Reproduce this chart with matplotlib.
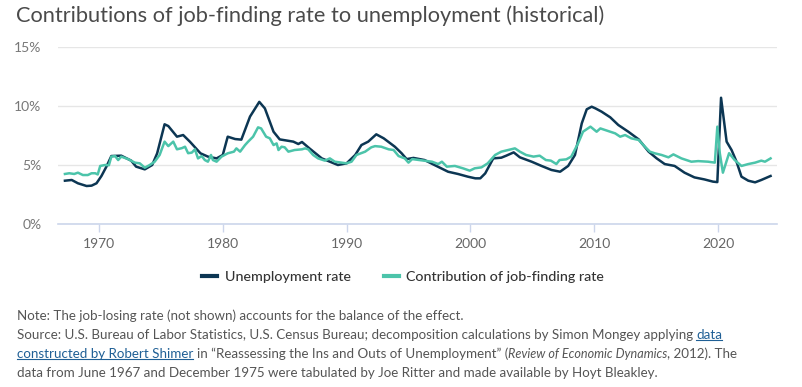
import matplotlib
matplotlib.use("Agg")
import matplotlib.pyplot as plt
from matplotlib.lines import Line2D
from matplotlib.transforms import IdentityTransform

# ---- data ----
unemp_years = [1967.25, 1967.8, 1968.3, 1969.0, 1969.4, 1969.8, 1970.2, 1970.6, 1971.0, 1971.8,
               1972.6, 1973.0, 1973.7, 1974.3, 1974.7, 1975.3, 1975.6, 1976.3, 1976.8, 1977.35,
               1978.2, 1978.8, 1979.5, 1980.0, 1980.4, 1981.0, 1981.5, 1982.2, 1982.95, 1983.4,
               1984.1, 1984.6, 1985.7, 1986.1, 1986.4, 1987.0, 1988.0, 1988.65, 1989.3, 1990.0,
               1990.7, 1991.2, 1991.75, 1992.4, 1993.0, 1993.9, 1994.45, 1994.85, 1995.4, 1996.3,
               1997.1, 1998.2, 1999.0, 1999.8, 2000.4, 2000.8, 2001.2, 2001.85, 2002.5, 2002.9,
               2003.5, 2004.0, 2004.95, 2005.75, 2006.55, 2007.25, 2007.9, 2008.45, 2009.0, 2009.4,
               2009.8, 2010.1, 2010.6, 2011.3, 2011.95, 2012.76, 2013.6, 2014.4, 2015.05, 2015.7,
               2016.5, 2017.3, 2018.1, 2018.9, 2019.6, 2019.95, 2020.25, 2020.7, 2021.1, 2021.5,
               2021.9, 2022.45, 2023.0, 2023.5, 2024.25]
unemp_rate = [3.67, 3.73, 3.45, 3.22, 3.25, 3.45, 4.07, 4.86, 5.76, 5.79,
              5.37, 4.86, 4.63, 5.0, 5.99, 8.45, 8.3, 7.4, 7.54, 6.97,
              5.99, 5.71, 5.56, 5.85, 7.4, 7.2, 7.15, 9.1, 10.35, 9.8,
              7.82, 7.17, 6.98, 6.78, 6.95, 6.41, 5.56, 5.28, 5.0, 5.14,
              5.85, 6.69, 6.98, 7.6, 7.26, 6.55, 5.99, 5.5, 5.6, 5.42,
              5.0, 4.43, 4.24, 4.01, 3.87, 3.87, 4.29, 5.56, 5.62, 5.79,
              6.07, 5.65, 5.28, 4.92, 4.58, 4.43, 4.92, 5.85, 8.53, 9.72,
              9.94, 9.8, 9.52, 9.04, 8.39, 7.82, 7.17, 6.13, 5.56, 5.08,
              4.92, 4.35, 3.95, 3.78, 3.59, 3.55, 10.7, 6.98, 6.27, 5.28,
              4.01, 3.67, 3.53, 3.73, 4.07]

jf_years = [1967.25, 1967.6, 1968.0, 1968.3, 1968.7, 1969.1, 1969.4, 1969.7, 1969.9, 1970.1,
            1970.5, 1970.8, 1971.0, 1971.3, 1971.55, 1971.8, 1972.35, 1972.9, 1973.3, 1973.7,
            1974.1, 1974.5, 1974.9, 1975.3, 1975.6, 1976.0, 1976.3, 1976.7, 1976.95, 1977.2,
            1977.5, 1977.75, 1978.0, 1978.3, 1978.55, 1978.8, 1979.05, 1979.2, 1979.5, 1979.9,
            1980.4, 1980.9, 1981.1, 1981.4, 1981.8, 1982.05, 1982.45, 1982.85, 1983.1, 1983.5,
            1983.8, 1984.1, 1984.35, 1984.5, 1984.75, 1985.0, 1985.3, 1985.8, 1986.4, 1986.65,
            1986.9, 1987.3, 1987.7, 1988.25, 1988.65, 1989.05, 1989.6, 1990.0, 1990.4, 1990.8,
            1991.5, 1992.0, 1992.3, 1992.8, 1993.4, 1993.8, 1994.2, 1994.7, 1995.0, 1995.3,
            1995.9, 1996.3, 1996.9, 1997.4, 1997.7, 1998.1, 1998.75, 1999.4, 1999.95, 2000.35,
            2000.9, 2001.4, 2002.0, 2002.5, 2003.05, 2003.6, 2004.0, 2004.5, 2005.1, 2005.6,
            2006.1, 2006.5, 2006.95, 2007.2, 2007.75, 2008.15, 2008.7, 2009.1, 2009.7, 2010.2,
            2010.5, 2010.9, 2011.7, 2012.1, 2012.5, 2013.0, 2013.6, 2014.1, 2014.5, 2014.9,
            2015.45, 2016.0, 2016.4, 2017.05, 2017.85, 2018.4, 2019.2, 2019.75, 2019.95, 2020.15,
            2020.4, 2020.9, 2021.35, 2021.9, 2022.45, 2023.0, 2023.5, 2023.8, 2024.25]
jf_contrib = [4.24, 4.3, 4.24, 4.35, 4.15, 4.15, 4.3, 4.3, 4.2, 4.92,
              5.0, 4.98, 5.71, 5.76, 5.42, 5.71, 5.5, 5.2, 5.14, 4.77,
              5.0, 5.28, 5.85, 6.98, 6.6, 6.98, 6.33, 6.43, 6.55, 6.0,
              6.05, 6.33, 5.56, 5.76, 5.42, 5.28, 5.85, 5.42, 5.28, 5.71,
              5.99, 6.13, 6.41, 6.13, 6.69, 6.98, 7.4, 8.19, 8.1, 7.4,
              7.26, 6.69, 6.83, 6.27, 6.55, 6.5, 6.13, 6.27, 6.33, 6.41,
              6.33, 5.85, 5.56, 5.37, 5.56, 5.28, 5.2, 5.14, 5.28, 5.85,
              6.13, 6.5, 6.6, 6.55, 6.33, 6.27, 5.76, 5.56, 5.2, 5.5,
              5.42, 5.37, 5.28, 5.08, 5.28, 4.86, 4.92, 4.72, 4.52, 4.72,
              4.8, 5.14, 5.85, 6.13, 6.27, 6.41, 6.13, 5.85, 5.71, 5.79,
              5.42, 5.37, 5.08, 5.42, 5.48, 5.71, 6.83, 7.82, 8.25, 7.82,
              8.1, 7.96, 7.68, 7.4, 7.54, 7.26, 7.12, 6.55, 6.13, 5.99,
              5.85, 5.65, 5.9, 5.56, 5.28, 5.33, 5.28, 5.2, 8.25, 6.0,
              4.35, 6.0, 5.42, 4.92, 5.08, 5.2, 5.37, 5.28, 5.56]

year_ticks = [1970, 1980, 1990, 2000, 2010, 2020]
pct_ticks = [0, 5, 10, 15]
series_labels = ["Unemployment rate", "Contribution of job-finding rate"]

DARK = "#0c3653"
TEAL = "#4cc4aa"
FONT = "Lato"

W, H = 802, 387
fig = plt.figure(figsize=(W / 100, H / 100), dpi=100)
ax = fig.add_axes([58 / W, 1 - 224 / H, (777 - 58) / W, (224 - 47) / H])

ax.plot(unemp_years, unemp_rate, color=DARK, lw=1.8, label=series_labels[0], solid_joinstyle="round")
ax.plot(jf_years, jf_contrib, color=TEAL, lw=1.8, label=series_labels[1], solid_joinstyle="round")

ax.set_xlim(1966.69, 2024.77)
ax.set_ylim(0, 15)
ax.set_yticks(pct_ticks)
ax.set_yticklabels([f"{v}%" for v in pct_ticks])
ax.set_xticks(year_ticks)
ax.grid(axis="y", color="#e6e6e6", lw=1)
ax.set_axisbelow(True)
for s in ["top", "right", "left"]:
    ax.spines[s].set_visible(False)
ax.spines["bottom"].set_color("#ccd6eb")
ax.spines["bottom"].set_linewidth(1.2)
ax.tick_params(axis="y", length=0, pad=12, labelsize=10, labelcolor="#777777")
ax.tick_params(axis="x", length=6, width=1, color="#ccd6eb", pad=4, labelsize=10, labelcolor="#666666")
for lab in ax.get_xticklabels() + ax.get_yticklabels():
    lab.set_fontfamily(FONT)

fig.text(16 / W, 1 - 5 / H, "Contributions of job-finding rate to unemployment (historical)",
         ha="left", va="top", fontsize=15.7, color="#4a4a4a", family=FONT)

leg = fig.legend(loc="center", bbox_to_anchor=(403 / W, 1 - 277 / H), ncol=2, frameon=False,
                 handlelength=1.05, handletextpad=0.55, columnspacing=2.3,
                 prop={"family": FONT, "size": 10.3, "weight": "medium"})
for h in leg.legend_handles:
    h.set_linewidth(3)
for t in leg.get_texts():
    t.set_color("#333333")

# ---- footnote, built piece by piece so the link and italics sit on one line ----
NOTE = dict(fontsize=9.6, color="#555555", family=FONT)
LINK = "#1f5f95"
lines = [
    [("Note: The job-losing rate (not shown) accounts for the balance of the effect.", "n")],
    [("Source: U.S. Bureau of Labor Statistics, U.S. Census Bureau; decomposition calculations by Simon Mongey applying", "n"),
     ("data", "l")],
    [("constructed by Robert Shimer", "l"),
     ("in “Reassessing the Ins and Outs of Unemployment” (", "n"),
     ("Review of Economic Dynamics", "i"),
     (", 2012). The", "n")],
    [("data from June 1967 and December 1975 were tabulated by Joe Ritter and made available by Hoyt Bleakley.", "n")],
]
baselines = [320, 339, 358, 377]
links = []
for parts, yb in zip(lines, baselines):
    prev = None
    for i, (s, kind) in enumerate(parts):
        kw = dict(NOTE)
        if kind == "l":
            kw["color"] = LINK
        if kind == "i":
            kw["style"] = "italic"
            kw["fontsize"] = 9.1
        gap = 0 if (i == 0 or s.startswith(",") or parts[i - 1][0].endswith("(")) else 2.4
        if prev is None:
            t = fig.text(17 / W, 1 - yb / H, s, ha="left", va="baseline", **kw)
        else:
            t = ax.annotate(s, xy=(1, 0), xycoords=prev, xytext=(gap, 0), textcoords="offset points",
                            ha="left", va="bottom", annotation_clip=False, **kw)
        if kind == "l":
            links.append(t)
        prev = t

fig.canvas.draw()
for t in links:
    bb = t.get_window_extent()
    y = bb.y0 + 1.5
    fig.add_artist(Line2D([bb.x0, bb.x1], [y, y], transform=IdentityTransform(), color=LINK, lw=0.8))

fig.savefig("out.png", dpi=100)
